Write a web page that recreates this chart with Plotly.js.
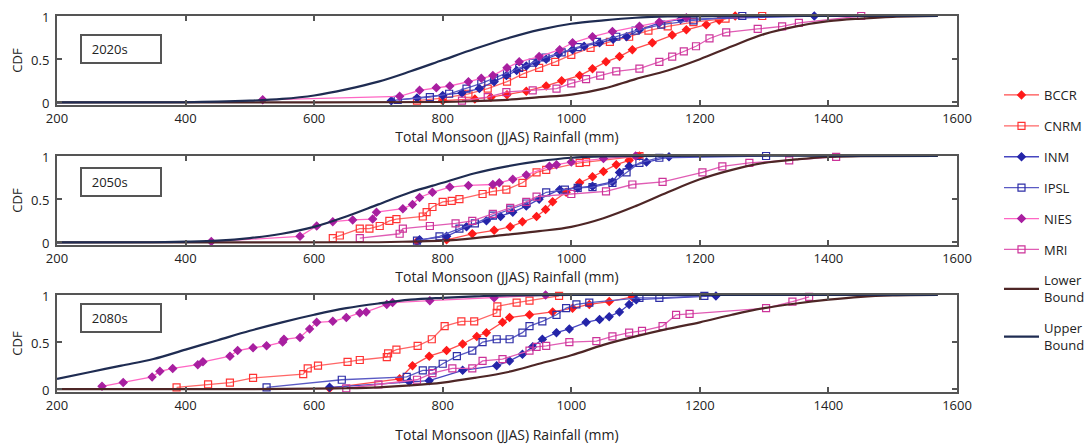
<!DOCTYPE html>
<html><head><meta charset="utf-8">
<script src="https://cdn.plot.ly/plotly-3.0.1.min.js"></script>
<style>body{margin:0;background:#fff}#chart{width:1090px;height:444px}</style>
</head><body><div id="chart"></div>
<script>
const models = ['BCCR', 'CNRM', 'INM', 'IPSL', 'NIES', 'MRI'];
const periods = ['2020s', '2050s', '2080s'];
const xTickVals = [200, 400, 600, 800, 1000, 1200, 1400, 1600];
const yTickVals = [0, 0.5, 1];
const yTickText = ['0', '0.5', '1'];
const xTitle = 'Total Monsoon (JJAS) Rainfall (mm)';
const yTitle = 'CDF';

// ---- 2020s ----
const bccr2020x = [800, 850, 875, 900, 930, 961, 985, 1013, 1033, 1054, 1075, 1095, 1126, 1157, 1179, 1210, 1230, 1255];
const bccr2020y = [0.02, 0.04, 0.06, 0.09, 0.13, 0.19, 0.25, 0.31, 0.39, 0.47, 0.53, 0.61, 0.69, 0.78, 0.84, 0.90, 0.95, 1.0];
const cnrm2020x = [760, 800, 840, 870, 900, 925, 950, 975, 1000, 1030, 1060, 1090, 1120, 1150, 1190, 1240, 1297];
const cnrm2020y = [0.02, 0.05, 0.10, 0.16, 0.24, 0.33, 0.40, 0.47, 0.55, 0.63, 0.70, 0.76, 0.83, 0.88, 0.93, 0.97, 1.0];
const inm2020x = [720, 760, 800, 830, 857, 880, 899, 915, 930, 945, 961, 980, 1002, 1020, 1044, 1065, 1086, 1106, 1137, 1170, 1378];
const inm2020y = [0.02, 0.05, 0.08, 0.11, 0.16, 0.24, 0.31, 0.37, 0.42, 0.46, 0.50, 0.56, 0.61, 0.65, 0.69, 0.73, 0.76, 0.84, 0.92, 0.96, 1.0];
const ipsl2020x = [730, 780, 810, 837, 860, 880, 900, 919, 940, 960, 985, 1010, 1040, 1070, 1100, 1140, 1190, 1266];
const ipsl2020y = [0.03, 0.06, 0.10, 0.16, 0.22, 0.28, 0.34, 0.40, 0.46, 0.52, 0.58, 0.64, 0.70, 0.76, 0.83, 0.90, 0.95, 1.0];
const nies2020x = [520, 733, 764, 790, 811, 840, 860, 878, 900, 919, 950, 982, 1002, 1033, 1064, 1106, 1137, 1179];
const nies2020y = [0.03, 0.07, 0.14, 0.17, 0.19, 0.24, 0.28, 0.31, 0.40, 0.47, 0.53, 0.61, 0.69, 0.76, 0.82, 0.88, 0.93, 0.98];
const mri2020x = [830, 870, 899, 940, 977, 1000, 1023, 1045, 1070, 1106, 1137, 1157, 1175, 1194, 1215, 1241, 1290, 1328, 1354, 1451];
const mri2020y = [0.02, 0.06, 0.12, 0.14, 0.16, 0.22, 0.27, 0.31, 0.36, 0.39, 0.47, 0.53, 0.59, 0.65, 0.74, 0.81, 0.85, 0.88, 0.92, 1.0];
const lower2020x = [200, 600, 800, 850, 900, 950, 1000, 1050, 1100, 1150, 1200, 1250, 1300, 1350, 1400, 1450, 1500, 1570];
const lower2020y = [0, 0, 0.005, 0.015, 0.03, 0.06, 0.09, 0.16, 0.27, 0.37, 0.50, 0.65, 0.79, 0.88, 0.94, 0.97, 0.99, 1.0];
const upper2020x = [200, 400, 450, 500, 550, 600, 650, 700, 750, 800, 850, 900, 950, 1000, 1050, 1100, 1150, 1570];
const upper2020y = [0, 0.002, 0.008, 0.02, 0.04, 0.08, 0.15, 0.24, 0.36, 0.49, 0.62, 0.74, 0.84, 0.91, 0.95, 0.98, 0.995, 1.0];

// ---- 2050s ----
const bccr2050x = [760, 806, 846, 880, 905, 924, 946, 960, 971, 992, 1013, 1033, 1050, 1070, 1090, 1106];
const bccr2050y = [0.01, 0.03, 0.10, 0.14, 0.18, 0.24, 0.30, 0.38, 0.47, 0.58, 0.69, 0.76, 0.82, 0.90, 0.95, 1.0];
const cnrm2050x = [629, 640, 671, 686, 702, 717, 728, 769, 775, 784, 800, 814, 826, 862, 878, 899, 924, 946, 961, 1013, 1023, 1106];
const cnrm2050y = [0.05, 0.08, 0.16, 0.16, 0.19, 0.25, 0.27, 0.30, 0.35, 0.41, 0.47, 0.48, 0.50, 0.56, 0.59, 0.61, 0.69, 0.81, 0.84, 0.92, 0.93, 1.0];
const inm2050x = [764, 806, 837, 868, 890, 909, 930, 950, 982, 1010, 1033, 1064, 1075, 1090, 1117, 1152];
const inm2050y = [0.03, 0.07, 0.18, 0.25, 0.30, 0.35, 0.42, 0.50, 0.61, 0.63, 0.65, 0.70, 0.81, 0.88, 0.93, 0.99];
const ipsl2050x = [760, 795, 826, 850, 878, 905, 930, 961, 990, 1010, 1033, 1064, 1086, 1106, 1137, 1303];
const ipsl2050y = [0.02, 0.07, 0.16, 0.22, 0.31, 0.38, 0.45, 0.58, 0.61, 0.63, 0.64, 0.69, 0.81, 0.92, 0.98, 1.0];
const nies2050x = [440, 578, 604, 629, 660, 691, 697, 738, 753, 764, 784, 811, 840, 878, 888, 909, 930, 966, 977, 1000, 1050, 1100];
const nies2050y = [0.01, 0.07, 0.19, 0.24, 0.26, 0.27, 0.35, 0.39, 0.44, 0.52, 0.58, 0.64, 0.66, 0.67, 0.69, 0.73, 0.78, 0.88, 0.90, 0.93, 0.97, 1.0];
const mri2050x = [671, 733, 738, 780, 820, 846, 878, 905, 930, 946, 1000, 1054, 1095, 1142, 1204, 1235, 1277, 1339, 1412];
const mri2050y = [0.05, 0.10, 0.16, 0.19, 0.22, 0.25, 0.33, 0.40, 0.47, 0.53, 0.56, 0.59, 0.67, 0.70, 0.81, 0.88, 0.92, 0.95, 0.99];
const lower2050x = [200, 700, 750, 800, 850, 900, 950, 1000, 1050, 1100, 1150, 1200, 1250, 1300, 1350, 1400, 1450, 1570];
const lower2050y = [0, 0.002, 0.01, 0.02, 0.05, 0.09, 0.13, 0.18, 0.28, 0.42, 0.58, 0.73, 0.84, 0.92, 0.96, 0.99, 0.997, 1.0];
const upper2050x = [200, 350, 400, 450, 500, 550, 600, 650, 700, 750, 800, 850, 900, 950, 1000, 1050, 1570];
const upper2050y = [0, 0.002, 0.008, 0.02, 0.05, 0.10, 0.18, 0.30, 0.44, 0.58, 0.69, 0.80, 0.88, 0.94, 0.98, 0.995, 1.0];

// ---- 2080s ----
const bccr2080x = [624, 733, 753, 779, 806, 831, 853, 868, 893, 904, 935, 971, 1002, 1028, 1059, 1095];
const bccr2080y = [0.01, 0.11, 0.25, 0.35, 0.41, 0.48, 0.56, 0.60, 0.71, 0.76, 0.79, 0.82, 0.86, 0.90, 0.93, 0.98];
const cnrm2080x = [386, 435, 469, 505, 583, 590, 606, 652, 671, 713, 715, 728, 761, 783, 803, 829, 849, 884, 885, 915, 935, 981];
const cnrm2080y = [0.02, 0.05, 0.07, 0.12, 0.16, 0.22, 0.25, 0.29, 0.31, 0.34, 0.38, 0.42, 0.46, 0.53, 0.67, 0.72, 0.72, 0.81, 0.88, 0.92, 0.94, 0.99];
const inm2080x = [624, 748, 779, 831, 884, 904, 924, 940, 955, 977, 997, 1023, 1044, 1059, 1075, 1090, 1101, 1225];
const inm2080y = [0.02, 0.08, 0.09, 0.20, 0.25, 0.30, 0.37, 0.45, 0.53, 0.60, 0.64, 0.71, 0.74, 0.77, 0.82, 0.90, 0.95, 0.99];
const ipsl2080x = [526, 643, 744, 769, 784, 800, 822, 846, 862, 884, 904, 924, 935, 955, 977, 992, 1008, 1028, 1106, 1137, 1207];
const ipsl2080y = [0.02, 0.10, 0.13, 0.20, 0.20, 0.27, 0.35, 0.41, 0.50, 0.53, 0.53, 0.60, 0.67, 0.72, 0.79, 0.86, 0.90, 0.92, 0.97, 0.97, 0.99];
const nies2080x = [270, 303, 348, 360, 380, 419, 427, 469, 481, 505, 526, 551, 553, 578, 593, 604, 629, 650, 671, 681, 713, 722, 780, 880, 960];
const nies2080y = [0.03, 0.07, 0.13, 0.19, 0.22, 0.26, 0.29, 0.35, 0.41, 0.44, 0.46, 0.50, 0.53, 0.55, 0.64, 0.71, 0.72, 0.76, 0.81, 0.82, 0.90, 0.92, 0.94, 0.97, 1.0];
const mri2080x = [650, 700, 760, 784, 815, 846, 862, 893, 935, 946, 961, 997, 1039, 1064, 1090, 1110, 1142, 1163, 1184, 1303, 1344, 1370];
const mri2080y = [0.01, 0.05, 0.10, 0.17, 0.22, 0.22, 0.30, 0.32, 0.41, 0.45, 0.46, 0.50, 0.51, 0.56, 0.60, 0.62, 0.67, 0.79, 0.80, 0.86, 0.93, 0.98];
const lower2080x = [200, 500, 600, 650, 700, 750, 800, 850, 900, 950, 1000, 1050, 1100, 1150, 1200, 1250, 1300, 1350, 1400, 1450, 1500, 1570];
const lower2080y = [0, 0, 0.005, 0.01, 0.02, 0.04, 0.07, 0.12, 0.18, 0.27, 0.36, 0.47, 0.56, 0.64, 0.71, 0.79, 0.86, 0.91, 0.95, 0.98, 0.995, 1.0];
const upper2080x = [200, 250, 300, 350, 400, 450, 500, 550, 600, 650, 700, 750, 800, 850, 900, 1000, 1570];
const upper2080y = [0.11, 0.18, 0.25, 0.32, 0.42, 0.52, 0.62, 0.71, 0.79, 0.86, 0.91, 0.95, 0.97, 0.985, 0.995, 1.0, 1.0];

const seriesData = {
  '2020s': {BCCR: [bccr2020x, bccr2020y], CNRM: [cnrm2020x, cnrm2020y], INM: [inm2020x, inm2020y], IPSL: [ipsl2020x, ipsl2020y], NIES: [nies2020x, nies2020y], MRI: [mri2020x, mri2020y], Lower: [lower2020x, lower2020y], Upper: [upper2020x, upper2020y]},
  '2050s': {BCCR: [bccr2050x, bccr2050y], CNRM: [cnrm2050x, cnrm2050y], INM: [inm2050x, inm2050y], IPSL: [ipsl2050x, ipsl2050y], NIES: [nies2050x, nies2050y], MRI: [mri2050x, mri2050y], Lower: [lower2050x, lower2050y], Upper: [upper2050x, upper2050y]},
  '2080s': {BCCR: [bccr2080x, bccr2080y], CNRM: [cnrm2080x, cnrm2080y], INM: [inm2080x, inm2080y], IPSL: [ipsl2080x, ipsl2080y], NIES: [nies2080x, nies2080y], MRI: [mri2080x, mri2080y], Lower: [lower2080x, lower2080y], Upper: [upper2080x, upper2080y]}
};

const styles = {
  BCCR: {line: '#ff4d4d', marker: '#ff1a1a', symbol: 'diamond', size: 6},
  CNRM: {line: '#ff6666', marker: '#ff3333', symbol: 'square-open', size: 7},
  INM:  {line: '#4646c0', marker: '#2424a8', symbol: 'diamond', size: 6},
  IPSL: {line: '#5a5ac4', marker: '#2e2ea6', symbol: 'square-open', size: 7},
  NIES: {line: '#ff66c4', marker: '#a81fa0', symbol: 'diamond', size: 6},
  MRI:  {line: '#e05cb4', marker: '#cc3399', symbol: 'square-open', size: 7}
};
const boundStyles = {
  Lower: {name: 'Lower<br>Bound', color: '#4e2626'},
  Upper: {name: 'Upper<br>Bound', color: '#1f2c52'}
};

const traces = [];
periods.forEach((p, i) => {
  const xa = i === 0 ? 'x' : 'x' + (i + 1);
  const ya = i === 0 ? 'y' : 'y' + (i + 1);
  models.forEach(m => {
    const s = styles[m];
    const d = seriesData[p][m];
    traces.push({
      x: d[0], y: d[1], xaxis: xa, yaxis: ya, type: 'scatter', mode: 'lines+markers',
      name: m, legendgroup: m, showlegend: i === 0, cliponaxis: false,
      line: {color: s.line, width: 1.3},
      marker: {color: s.marker, symbol: s.symbol, size: s.size, line: {color: s.marker, width: 1.2}}
    });
  });
  ['Lower', 'Upper'].forEach(b => {
    const d = seriesData[p][b];
    traces.push({
      x: d[0], y: d[1], xaxis: xa, yaxis: ya, type: 'scatter', mode: 'lines',
      name: boundStyles[b].name, legendgroup: b, showlegend: i === 0, cliponaxis: false,
      line: {color: boundStyles[b].color, width: 2.2, shape: 'spline', smoothing: 1}
    });
  });
});

const H = 444;
const domains = [[1 - 105 / H, 1 - 16 / H], [1 - 245 / H, 1 - 156 / H], [1 - 392 / H, 1 - 295 / H]];
const titleStandoff = [7, 7, 18];
const fontFam = '"Open Sans", "Noto Sans", Arial, sans-serif';

const layout = {
  width: 1090, height: 444,
  margin: {l: 57, r: 133, t: 0, b: 0},
  paper_bgcolor: '#fff', plot_bgcolor: '#fff',
  font: {family: fontFam, size: 13, color: '#222'},
  showlegend: true,
  legend: {
    x: (999 - 57) / 900, xanchor: 'left', y: 1 - 80 / H, yanchor: 'top',
    traceorder: 'grouped', tracegroupgap: 11, font: {size: 13, color: '#222'},
    bgcolor: 'rgba(0,0,0,0)', itemwidth: 35
  },
  annotations: []
};

periods.forEach((p, i) => {
  const sfx = i === 0 ? '' : String(i + 1);
  const xa = 'xaxis' + sfx, ya = 'yaxis' + sfx;
  layout[xa] = {
    domain: [0, 1], anchor: 'y' + sfx, range: [200, 1600],
    tickvals: xTickVals, ticks: 'inside', ticklen: 5, tickwidth: 2, tickcolor: '#555',
    showline: true, linecolor: '#555', linewidth: 2, mirror: 'ticks',
    showgrid: false, zeroline: false,
    tickfont: {size: 13, color: '#222'},
    title: {text: xTitle, font: {size: 14, color: '#222'}, standoff: titleStandoff[i]}
  };
  layout[ya] = {
    domain: domains[i], anchor: 'x' + sfx, range: [-0.03, 1],
    tickvals: yTickVals, ticktext: yTickText, ticks: 'inside', ticklen: 5, tickwidth: 2, tickcolor: '#555',
    showline: true, linecolor: '#555', linewidth: 2, mirror: 'ticks',
    showgrid: false, zeroline: false, ticklabelstandoff: 3, ticklabelshift: 1,
    tickfont: {size: 13, color: '#222'},
    title: {text: yTitle, font: {size: 13, color: '#222'}, standoff: 6}
  };
});

const boxY = [1 - 18 / 89, 1 - 11 / 89, 1 - 8 / 97];
periods.forEach((p, i) => {
  const sfx = i === 0 ? '' : String(i + 1);
  layout.annotations.push({
    xref: 'x' + sfx + ' domain', yref: 'y' + sfx + ' domain',
    x: 23 / 900, y: boxY[i], xanchor: 'left', yanchor: 'top',
    text: '&nbsp;&nbsp;' + p, showarrow: false, align: 'left',
    width: 72, height: 20, borderpad: 3,
    bordercolor: '#555', borderwidth: 2, bgcolor: '#fff',
    font: {size: 13, color: '#222'}
  });
});

Plotly.newPlot('chart', traces, layout, {displayModeBar: false, staticPlot: true});
</script>
</body></html>
